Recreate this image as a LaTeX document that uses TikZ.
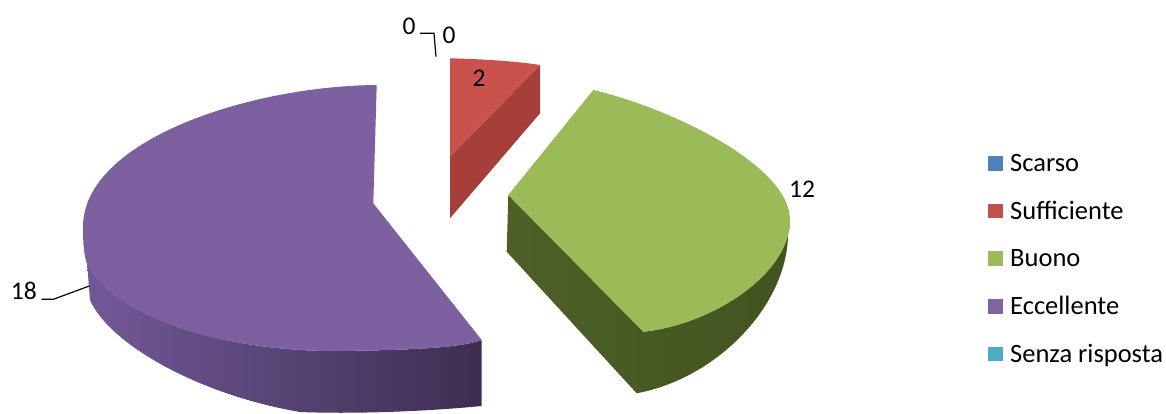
\documentclass[tikz,border=0pt]{standalone}
\usepackage{fontspec}
\setmainfont{Carlito}
\definecolor{purTop}{RGB}{124,96,160}
\definecolor{purSideL}{RGB}{114,88,152}
\definecolor{purSideR}{RGB}{60,46,80}
\definecolor{grnTop}{RGB}{155,187,89}
\definecolor{grnSide}{RGB}{76,96,38}
\definecolor{grnSideD}{RGB}{66,84,32}
\definecolor{redTop}{RGB}{202,82,77}
\definecolor{redSide}{RGB}{166,62,58}
\definecolor{cScarso}{RGB}{79,129,189}
\definecolor{cSuff}{RGB}{192,80,77}
\definecolor{cBuono}{RGB}{155,187,89}
\definecolor{cEcc}{RGB}{128,100,162}
\definecolor{cSenza}{RGB}{75,172,198}
\tikzset{
  vlabel/.style={inner sep=0pt, font=\fontsize{25.5}{30}\selectfont},
  legtext/.style={inner sep=0pt, anchor=base west, font=\fontsize{26.5}{31}\selectfont},
  legsq/.style={inner sep=0pt, minimum size=14.5pt, draw=none},
  leader/.style={draw=black, line width=1.2pt}
}
\begin{document}
\begin{tikzpicture}[x=1pt,y=-1pt]
\useasboundingbox (0,0) rectangle (1166,414);
% ---------- Eccellente (purple) ----------
\shade[left color=purSideL, right color=purSideR]
  (87,262) .. controls (115,320) and (230,352) .. (340,351)
  .. controls (410,350) and (460,348) .. (481.7,340)
  -- (481.7,406)
  .. controls (420,412) and (350,414) .. (300,412)
  .. controls (200,395) and (110,345) .. (90,300)
  -- cycle;
\fill[purTop]
  (373.3,203.3) -- (376.7,85)
  .. controls (250,86) and (83,140) .. (83,227)
  .. controls (83,245) and (84,255) .. (87,264)
  .. controls (115,320) and (230,352) .. (340,351)
  .. controls (410,350) and (460,348) .. (481.7,340)
  -- cycle;
% ---------- Buono (green) ----------
\shade[left color=grnSide, right color=grnSideD]
  (508.3,195) -- (643.3,331.7)
  .. controls (710,325) and (790,275) .. (790,220)
  -- (788,235)
  .. controls (787,305) and (718,378) .. (636.7,393.3)
  -- (506.7,251.7) -- cycle;
\fill[grnTop]
  (593.3,90) .. controls (670,108) and (790,165) .. (790,220)
  .. controls (790,275) and (710,325) .. (643.3,331.7)
  -- (508.3,195) -- cycle;
% ---------- Sufficiente (red) ----------
\fill[redSide] (450,156.7) -- (540,65) -- (540,113.3) -- (450,218.3) -- cycle;
\fill[redTop] (450,58.3) .. controls (480,59) and (515,61) .. (540,65) -- (450,156.7) -- cycle;
% ---------- data labels ----------
\node[vlabel] (v0a) at (409,26.7) {0};
\node[vlabel] (v0b) at (449,35) {0};
\node[vlabel] (v2) at (479,78) {2};
\node[vlabel] (v12) at (802,189.5) {12};
\node[vlabel] (v18) at (23.8,291.3) {18};
\coordinate (k0a) at (420,33.3);
\coordinate (k0b) at (434,33.3);
\coordinate (k0c) at (436,56.7);
\draw[leader] (k0a) -- (k0b) -- (k0c);
\coordinate (k18a) at (41.7,299.3);
\coordinate (k18b) at (53.3,299.3);
\coordinate (k18c) at (89.3,286);
\draw[leader] (k18a) -- (k18b) -- (k18c);
% ---------- legend ----------
\node[legsq, fill=cScarso] (s1) at (995.3,163.3) {};
\node[legsq, fill=cSuff]   (s2) at (995.3,211.0) {};
\node[legsq, fill=cBuono]  (s3) at (995.3,258.7) {};
\node[legsq, fill=cEcc]    (s4) at (995.3,306.3) {};
\node[legsq, fill=cSenza]  (s5) at (995.3,354.0) {};
\node[legtext] (t1) at (1010,171.3) {Scarso};
\node[legtext] (t2) at (1010,219.0) {Sufficiente};
\node[legtext] (t3) at (1010,266.7) {Buono};
\node[legtext] (t4) at (1010,314.3) {Eccellente};
\node[legtext] (t5) at (1010,362.0) {Senza risposta};
\end{tikzpicture}
\end{document}
